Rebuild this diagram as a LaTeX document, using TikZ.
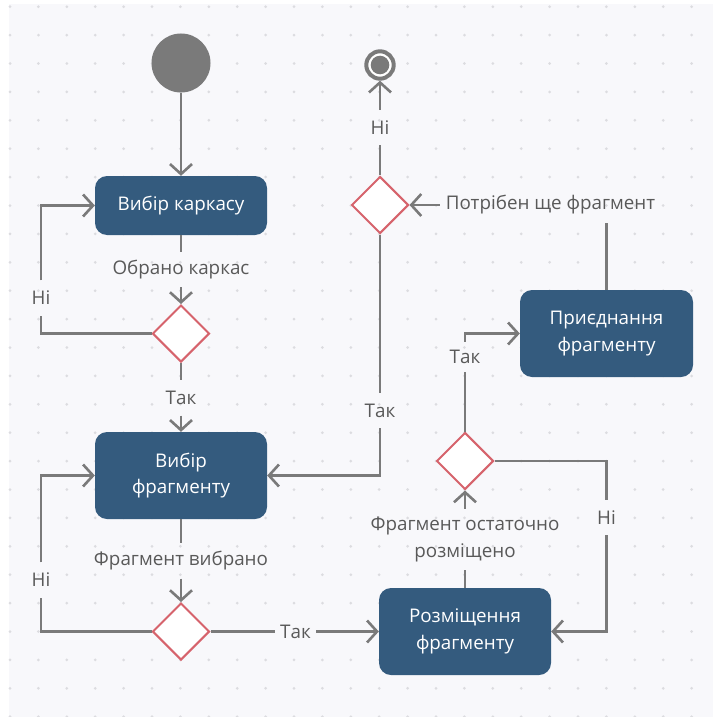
\documentclass[tikz,border=0pt]{standalone}
\usepackage{fontspec}
\setmainfont{Open Sans}
\usetikzlibrary{arrows.meta,shapes.geometric}
\definecolor{bgc}{HTML}{F8F8FB}
\definecolor{dotc}{HTML}{DCDCE0}
\definecolor{lc}{HTML}{7A7A7A}
\definecolor{boxc}{HTML}{345B7E}
\definecolor{decc}{HTML}{D6636C}
\definecolor{txtc}{HTML}{595959}
\begin{document}
\begin{tikzpicture}[x=1pt,y=-1pt,
  act/.style={rectangle, rounded corners=12pt, fill=boxc, text=white, inner sep=0pt,
    minimum width=172pt, align=center, font=\fontsize{18.8}{26.5}\selectfont},
  decision/.style={diamond, draw=decc, fill=white, line width=2pt, inner sep=0pt,
    minimum width=57pt, minimum height=57pt},
  lbl/.style={text=txtc, inner xsep=6pt, inner ysep=0pt, minimum height=35pt,
    align=center, font=\fontsize{18.8}{26.5}\selectfont},
  flow/.style={draw=lc, line width=2.6pt},
  arr/.style={flow, -{Straight Barb[length=10pt,width=22pt]}}]

% canvas with dot grid
\useasboundingbox (0,0) rectangle (713,717);
\fill[white] (0,0) rectangle (713,717);
\fill[bgc] (9,4) rectangle (713,717);
\foreach \i in {0,...,24}
  \foreach \j in {0,...,25}
    \fill[dotc] ({10+28.4*\i},{6.7+28.4*\j}) circle (1.5pt);

% initial and final nodes
\node[circle, fill=lc, minimum size=59pt, inner sep=0pt] (st) at (181,63) {};
\node[circle, draw=lc, line width=4pt, fill=white, minimum size=27.4pt, inner sep=0pt] (fin) at (380,65) {};
\fill[lc] (fin.center) circle (9.3pt);

% activities
\node[act, minimum height=59pt] (b1) at (181,205.5) {Вибір каркасу};
\node[act, minimum height=87pt] (b2) at (181,475.5) {Вибір\\фрагменту};
\node[act, minimum height=87pt] (b3) at (465,631.5) {Розміщення\\фрагменту};
\node[act, minimum height=87pt, minimum width=173pt] (b4) at (606.5,333.5) {Приєднання\\фрагменту};

% decisions
\node[decision] (d1) at (181,333.5) {};
\node[decision] (d2) at (181,631.5) {};
\node[decision] (d3) at (465,461) {};
\node[decision] (d4) at (380,205) {};

% guard labels
\node[lbl] (l1) at (181,269.5) {Обрано каркас};
\node[lbl] (n1) at (41,298) {Ні};
\node[lbl] (t1) at (181,398) {Так};
\node[lbl] (l2) at (181,561) {Фрагмент вибрано};
\node[lbl] (n2) at (41,580) {Ні};
\node[lbl, inner xsep=5pt] (t2) at (295.5,631.5) {Так};
\node[lbl, minimum height=61pt] (l3) at (465,539.5) {Фрагмент остаточно\\розміщено};
\node[lbl] (n3) at (606.5,517.5) {Ні};
\node[lbl, minimum height=30pt] (t3) at (465,357) {Так};
\node[lbl] (lp) at (550.5,205) {Потрібен ще фрагмент};
\node[lbl] (n4) at (380,127.5) {Ні};
\node[lbl] (t4) at (380,410.5) {Так};

% control flow
\draw[arr] (st) -- (b1);
\draw[flow] (b1) -- (l1);
\draw[arr] (l1) -- (d1);
\draw[flow] (d1.west) -| (n1.south);
\draw[arr] (n1.north) |- (b1.west);
\draw[flow] (d1) -- (t1);
\draw[arr] (t1) -- (b2);
\draw[flow] (b2) -- (l2);
\draw[arr] (l2) -- (d2);
\draw[flow] (d2.west) -| (n2.south);
\draw[arr] (n2.north) |- (b2.west);
\draw[flow] (d2) -- (t2);
\draw[arr] (t2) -- (b3);
\draw[flow] (b3) -- (l3);
\draw[arr] (l3) -- (d3);
\draw[flow] (d3.east) -| (n3.north);
\draw[arr] (n3.south) |- (b3.east);
\draw[flow] (d3) -- (t3);
\draw[arr] (t3.north) |- (b4.west);
\draw[flow] (b4.north) -- (b4.north |- lp.south);
\draw[arr] (lp.west) -- (d4.east);
\draw[flow] (d4) -- (n4);
\draw[arr] (n4) -- (fin);
\draw[flow] (d4) -- (t4);
\draw[arr] (t4.south) |- (b2.east);
\end{tikzpicture}
\end{document}
